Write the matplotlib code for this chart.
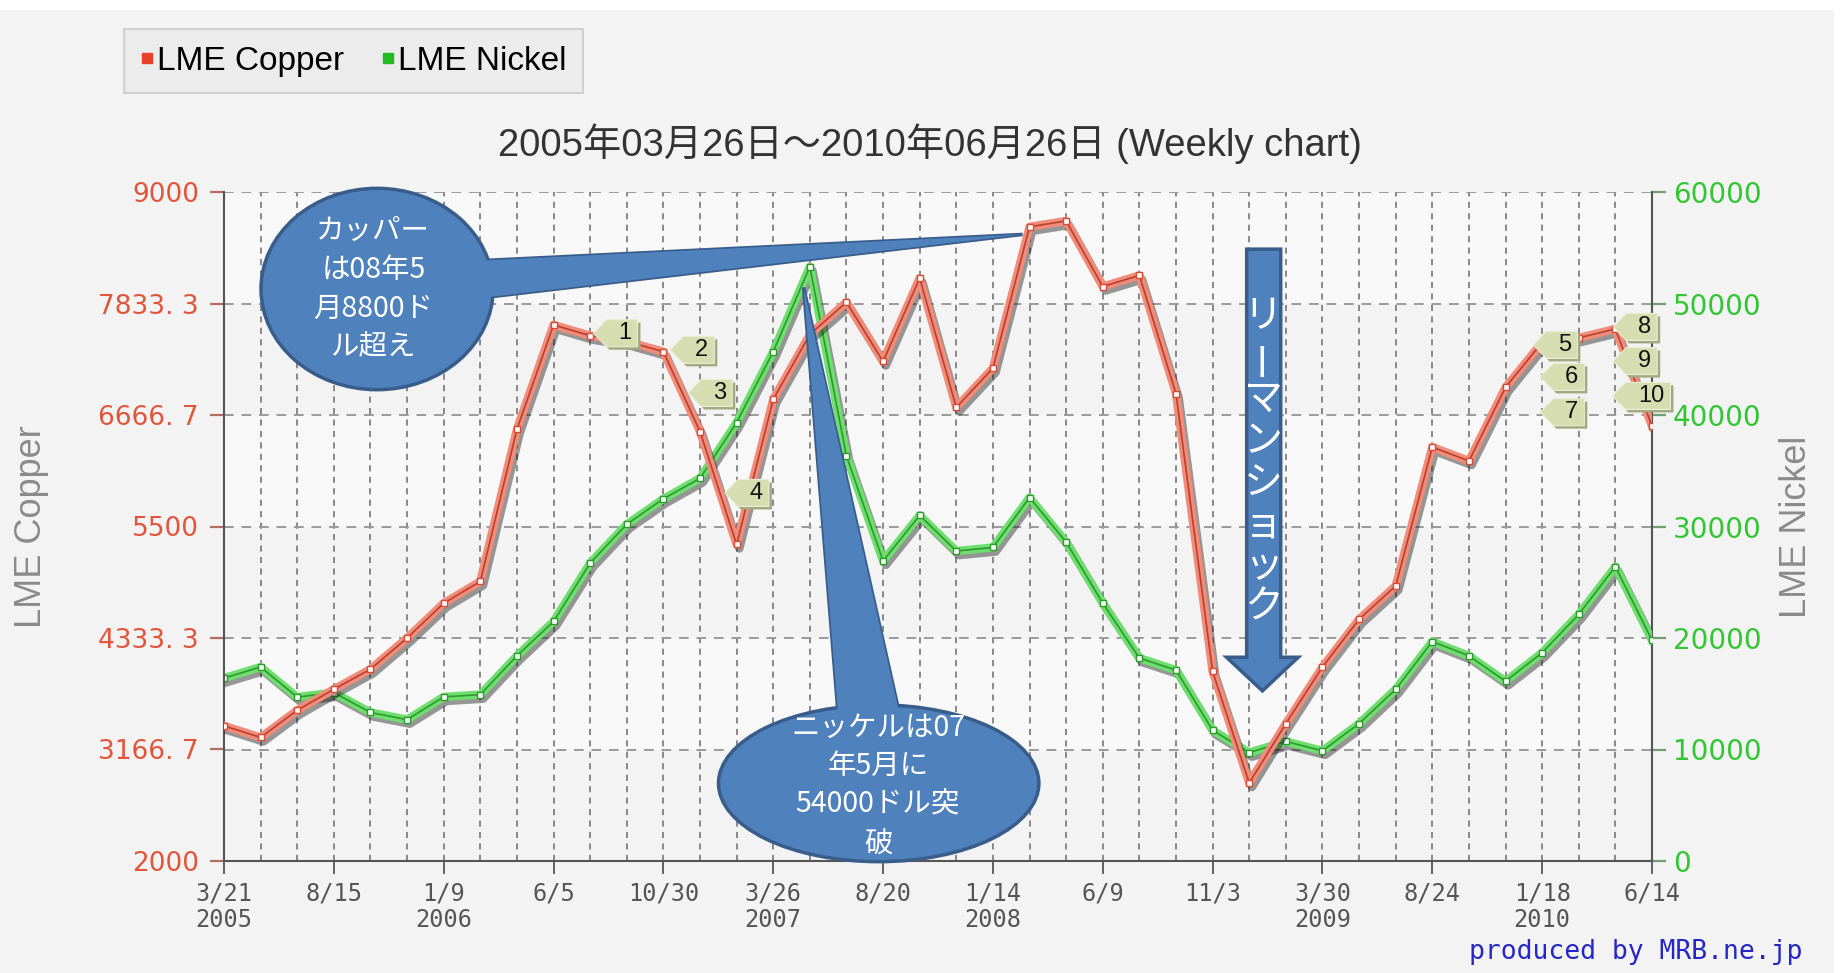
import matplotlib
matplotlib.use('Agg')
import matplotlib.pyplot as plt
import matplotlib.patches as mpatches
import matplotlib.transforms as mtransforms
import matplotlib.patheffects as pe
from matplotlib.lines import Line2D
import numpy as np

# weekly chart, one point every 7 weeks from 2005/3/21 to 2010/6/14
copper = [3414, 3293, 3577, 3797, 4007, 4333, 4697, 4926, 6517, 7609,
          7497, 7437, 7329, 6494, 5313, 6830, 7510, 7847, 7227, 8099,
          6746, 7157, 8636, 8697, 8011, 8127, 6891, 3983, 2817, 3437,
          4030, 4529, 4879, 6331, 6186, 6956, 7427, 7474, 7567, 6550]
nickel = [16400, 17400, 14700, 15100, 13320, 12680, 14720, 14920, 18400, 21480,
          26720, 30200, 32480, 34320, 39320, 45680, 53300, 36320, 26920, 31000,
          27800, 28120, 32600, 28600, 23120, 18200, 17120, 11720, 9720, 10720,
          9880, 12320, 15400, 19680, 18400, 16120, 18680, 22120, 26400, 19800]

x_ticklabels = ['3/21\n2005', '8/15', '1/9\n2006', '6/5', '10/30', '3/26\n2007', '8/20',
                '1/14\n2008', '6/9', '11/3', '3/30\n2009', '8/24', '1/18\n2010', '6/14']
copper_ticks = [2000, 3166.7, 4333.3, 5500, 6666.7, 7833.3, 9000]
copper_ticklabels = ['2000', '3166. 7', '4333. 3', '5500', '6666. 7', '7833. 3', '9000']
nickel_ticks = [0, 10000, 20000, 30000, 40000, 50000, 60000]
nickel_ticklabels = ['0', '10000', '20000', '30000', '40000', '50000', '60000']

# numbered flags (tip position, copper scale)
flag_labels = ['1', '2', '3', '4', '5', '6', '7', '8', '9', '10']
flag_x = [10.09, 12.19, 12.68, 13.68, 35.76, 35.95, 35.95, 37.94, 37.94, 37.92]
flag_y = [7522, 7348, 6897, 5851, 7400, 7065, 6696, 7588, 7231, 6866]

title = '2005年03月26日～2010年06月26日 (Weekly chart)'
note_copper = 'カッパー\nは08年5\n月8800ド\nル超え'
note_nickel = 'ニッケルは07\n年5月に\n54000ドル突\n破'
note_lehman = 'リーマンショック'

JP = ['Noto Sans CJK JP', 'DejaVu Sans']
SANS = ['Liberation Sans', 'Noto Sans CJK JP', 'DejaVu Sans']
BLUE = '#4f81bd'
BLUE_EDGE = '#385d8a'

fig = plt.figure(figsize=(18.47, 9.73), dpi=100, facecolor='#f3f3f3')
W, H = 1847, 973
ax1 = fig.add_axes([224 / W, 1 - 861 / H, 1428 / W, 669 / H])
ax2 = ax1.twinx()
ax1.set_zorder(2)
ax2.set_zorder(1)
ax1.patch.set_visible(False)
ax2.patch.set_visible(True)
ax2.patch.set_facecolor('#f8f8f8')

x = np.arange(len(copper))

# background bands + grid (on the lower axes)
for k in range(6):
    if k % 2 == 0:
        ax2.axhspan(nickel_ticks[k], nickel_ticks[k + 1], color='#f3f3f3', zorder=0, lw=0)
ax2.set_yticks(nickel_ticks)
ax2.grid(axis='y', color='#9a9a9a', ls=(0, (5, 4)), lw=1.4)
ax2.vlines(x[1:-1], 0, 60000, colors='#6a6a6a', linestyles=(0, (4, 3.5)), lw=1.1, zorder=1)

shadow = [pe.SimpleLineShadow(offset=(2, -3), shadow_color='#202020', alpha=0.45), pe.Normal()]

ax2.plot(x, nickel, color='#6ede6e', lw=6, path_effects=shadow, zorder=3, solid_joinstyle='round')
ax2.plot(x, nickel, color='#2e9a2e', lw=1.2, zorder=4)
ax2.plot(x, nickel, ls='none', marker='s', ms=4, mfc='white', mec='#2e9a2e', mew=1, zorder=5)

ax1.plot(x, copper, color='#f28c7a', lw=6, path_effects=shadow, zorder=3, solid_joinstyle='round')
ax1.plot(x, copper, color='#b8402c', lw=1.2, zorder=4)
ax1.plot(x, copper, ls='none', marker='s', ms=4, mfc='white', mec='#d84a34', mew=1, zorder=5)

# axes styling
ax1.set_xlim(0, len(copper) - 1)
ax1.set_ylim(2000, 9000)
ax2.set_ylim(0, 60000)
ax1.set_xticks(x[::3])
ax1.set_xticklabels(x_ticklabels, family='DejaVu Sans Mono', fontsize=17, color='#555555',
                    linespacing=1.1)
ax1.set_yticks(copper_ticks)
ax1.set_yticklabels(copper_ticklabels, family='DejaVu Sans', fontsize=19, color='#e2553b')
ax2.set_yticklabels(nickel_ticklabels, family='DejaVu Sans', fontsize=20, color='#33c633')
ax1.tick_params(axis='x', length=9, width=1.3, color='#555555', pad=6)
ax1.tick_params(axis='y', length=10, width=1.6, color='#b07060', pad=8)
ax2.tick_params(axis='y', length=10, width=1.6, color='#70a070', pad=5)
for s in ['top', 'right']:
    ax1.spines[s].set_visible(False)
for s in ['top', 'left', 'bottom']:
    ax2.spines[s].set_visible(False)
for sp in [ax1.spines['left'], ax1.spines['bottom'], ax2.spines['right']]:
    sp.set_color('#555555')
    sp.set_linewidth(1.5)

ax1.set_ylabel('LME Copper', family=SANS, fontsize=26, color='#8a8a8a')
ax1.yaxis.set_label_coords(-0.1225, 0.5)
ax2.set_ylabel('LME Nickel', family=SANS, fontsize=26, color='#8a8a8a')
ax2.yaxis.set_label_coords(1.089, 0.5)

# numbered flags
for lab, fx, fy in zip(flag_labels, flag_x, flag_y):
    tr = fig.dpi_scale_trans + mtransforms.ScaledTranslation(fx, fy, ax1.transData)
    w = 0.58 if len(lab) > 1 else 0.44
    h, t = 0.135, 0.13
    verts = [(0, 0), (t, h), (w, h), (w, -h), (t, -h)]
    ax1.add_patch(mpatches.Polygon([(a + 0.03, b - 0.03) for a, b in verts], closed=True,
                                   transform=tr, fc='#a4a982', ec='none', zorder=6, clip_on=False))
    ax1.add_patch(mpatches.Polygon(verts, closed=True, transform=tr, fc='#d6deb1',
                                   ec='#e9eed4', lw=0.8, zorder=7, clip_on=False))
    ax1.text((t + w) / 2 + 0.03, 0, lab, transform=tr, ha='center', va='center',
             fontsize=17, family=SANS, color='#111111', zorder=8)


def callout(center, width, height, wedge, text, text_xy):
    wed = mpatches.Polygon(wedge, closed=True, fc=BLUE, ec=BLUE_EDGE, lw=2.5, zorder=10, clip_on=False)
    ell = mpatches.Ellipse(center, width, height, fc=BLUE, ec=BLUE_EDGE, lw=2.5, zorder=11, clip_on=False)
    cover = mpatches.Polygon(wedge, closed=True, fc=BLUE, ec='none', zorder=12, clip_on=False)
    for p in (wed, ell, cover):
        ax1.add_patch(p)
    ax1.text(text_xy[0], text_xy[1], text, ha='center', va='center', color='white',
             fontsize=20.5, family=JP, linespacing=1.38, zorder=13)


callout((4.18, 7985), 6.34, 2107,
        [(6.11, 8285), (7.18, 8285), (21.81, 8556), (7.27, 7903), (6.11, 7903)],
        note_copper, (4.08, 7985))
callout((17.88, 2813), 8.75, 1640,
        [(16.75, 3121), (16.75, 3639), (15.83, 8002), (18.39, 3639), (18.39, 3121)],
        note_nickel, (17.86, 2790))

# Lehman shock arrow
arrow = [(27.93, 8402), (28.86, 8402), (28.86, 4132), (29.34, 4132), (28.36, 3780),
         (27.38, 4132), (27.93, 4132)]
ax1.add_patch(mpatches.Polygon(arrow, closed=True, fc=BLUE, ec=BLUE_EDGE, lw=2.5, zorder=10))
for k, ch in enumerate(note_lehman):
    ax1.text(28.38, 7700 - k * 435, ch, ha='center', va='center', color='white', fontsize=28,
             family=JP, rotation=90 if ch == 'ー' else 0, zorder=13)

ax1.set_xlim(0, len(copper) - 1)
ax1.set_ylim(2000, 9000)

# legend, title, credit
handles = [Line2D([], [], ls='none', marker='s', ms=7, color='#e8402a'),
           Line2D([], [], ls='none', marker='s', ms=7, color='#22bb22')]
leg = fig.legend(handles, ['LME Copper', 'LME Nickel'], loc='upper left',
                 bbox_to_anchor=(124 / W, 1 - 29 / H), ncol=2, frameon=True, fancybox=False,
                 prop={'family': SANS, 'size': 24}, handlelength=0.4, handletextpad=0.1,
                 columnspacing=1.1, borderpad=0.5, borderaxespad=0)
leg.get_frame().set_facecolor('#ebebeb')
leg.get_frame().set_edgecolor('#c8c8c8')
leg.get_frame().set_linewidth(1.5)

fig.text(930 / W, 1 - 144 / H, title, ha='center', va='center', fontsize=27.5,
         family=SANS, color='#333333')
fig.text(1802 / W, 1 - 952 / H, 'produced by MRB.ne.jp', ha='right', va='center',
         fontsize=19, family='DejaVu Sans Mono', color='#2626c8')

# white frame strips of the screenshot
fig.patches.append(mpatches.Rectangle((0, 1 - 10 / H), 1, 10 / H, transform=fig.transFigure,
                                      fc='white', ec='none', zorder=-1))
fig.patches.append(mpatches.Rectangle((1 - 13 / W, 0), 13 / W, 1, transform=fig.transFigure,
                                      fc='white', ec='none', zorder=-1))

fig.savefig('out.png', dpi=100, facecolor=fig.get_facecolor())
